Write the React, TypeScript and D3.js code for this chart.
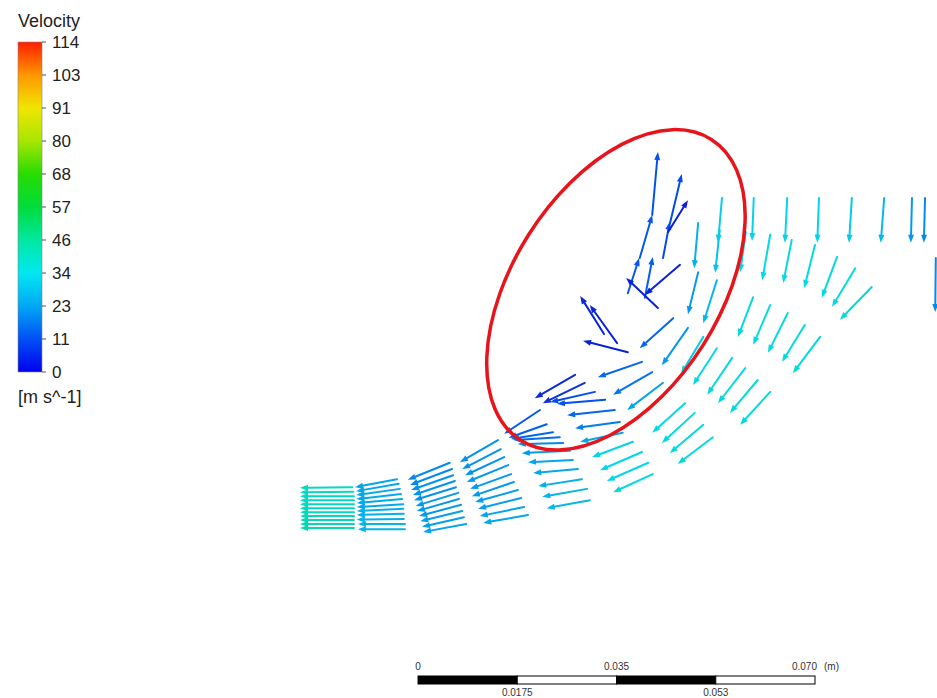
import * as d3 from "d3";
import { useEffect, useRef } from "react";

// colour legend (velocity, m/s)
const legendStops = [0, 11.4, 22.8, 34.2, 45.6, 57, 68.4, 79.8, 91.2, 102.6, 114];
const legendLabels = ["0", "11", "23", "34", "46", "57", "68", "80", "91", "103", "114"];
const legendColours = [
  "#0000f0", "#0050f5", "#00a8f5", "#00e8f0", "#00e8a0", "#00dc3c",
  "#28dc00", "#a8e600", "#f0e600", "#ff9600", "#ff1e00",
];

// length scale bar, mm
const scaleBarSegments = [0, 17.5, 35, 52.5, 70];
const scaleBarTop = [0, 35, 70];
const scaleBarTopLabels = ["0", "0.035", "0.070"];
const scaleBarBottom = [17.5, 52.5];
const scaleBarBottomLabels = ["0.0175", "0.053"];

// vectors: [tailX, tailY, headX, headY, speed]  positions in mm, speed in m/s
const section1 = [
  [-11.6, 34.0, -20.8, 33.9, 40],
  [-11.4, 33.2, -20.8, 33.1, 40],
  [-11.3, 32.4, -20.8, 32.4, 40],
  [-11.3, 31.7, -20.8, 31.7, 40],
  [-11.3, 31.0, -20.8, 31.0, 41],
  [-11.3, 30.3, -20.8, 30.3, 41],
  [-11.3, 29.6, -20.8, 29.6, 41],
  [-11.3, 28.9, -20.8, 28.9, 41],
  [-11.3, 28.2, -20.8, 28.2, 42],
  [-11.3, 27.5, -20.8, 27.5, 42],
  [-11.3, 26.8, -20.8, 26.8, 42],
];

const section2 = [
  [-3.7, 35.4, -11.1, 34.0, 24],
  [-3.4, 34.6, -10.9, 33.3, 24],
  [-3.2, 33.7, -10.9, 32.6, 25],
  [-3.0, 32.8, -10.9, 31.9, 25],
  [-2.8, 31.9, -10.8, 31.2, 25],
  [-2.6, 31.0, -10.8, 30.5, 25],
  [-2.6, 30.2, -10.8, 29.8, 26],
  [-2.5, 29.3, -10.8, 29.1, 26],
  [-2.5, 28.4, -10.8, 28.3, 26],
  [-2.3, 27.5, -10.6, 27.5, 27],
  [-2.3, 26.6, -10.6, 26.6, 27],
];

const section3 = [
  [5.6, 38.3, -1.8, 35.3, 20],
  [6.0, 37.2, -1.4, 34.4, 20],
  [6.2, 36.1, -1.2, 33.5, 21],
  [6.5, 35.1, -0.9, 32.6, 21],
  [6.7, 34.0, -0.7, 31.7, 21],
  [7.1, 33.0, -0.4, 30.7, 22],
  [7.2, 31.9, -0.2, 29.8, 22],
  [7.6, 30.9, 0.2, 28.9, 22],
  [7.8, 29.8, 0.4, 28.0, 23],
  [8.1, 28.7, 0.7, 27.0, 23],
  [8.5, 27.5, 0.9, 26.1, 24],
];

const section4 = [
  [14.1, 42.3, 7.4, 38.4, 21],
  [14.6, 40.7, 7.8, 37.2, 21],
  [15.2, 39.3, 8.3, 36.1, 21],
  [15.9, 37.9, 8.6, 34.9, 22],
  [16.4, 36.3, 9.2, 33.7, 22],
  [16.9, 34.9, 9.5, 32.4, 22],
  [17.6, 33.5, 10.1, 31.4, 23],
  [18.2, 32.1, 10.6, 30.2, 23],
  [18.7, 30.5, 10.9, 28.9, 24],
  [19.4, 29.1, 11.5, 27.7, 24],
];

const section5 = [
  [21.5, 47.6, 15.2, 43.4, 13],
  [22.7, 45.1, 16.0, 42.7, 14],
  [23.8, 43.7, 16.4, 42.5, 15],
  [25.0, 42.8, 16.8, 42.3, 16],
  [25.6, 41.8, 17.6, 41.6, 20],
  [26.8, 40.4, 18.3, 40.0, 22],
  [27.3, 38.8, 19.4, 38.4, 24],
  [28.2, 37.2, 20.3, 36.5, 25],
  [28.9, 35.4, 21.2, 34.2, 26],
  [29.8, 33.7, 21.9, 32.3, 27],
  [30.3, 31.7, 22.7, 30.3, 28],
];

const section6 = [
  [27.7, 53.8, 20.6, 49.7, 6],
  [29.4, 52.4, 22.0, 48.8, 7],
  [31.2, 50.8, 23.3, 49.0, 11],
  [33.0, 49.4, 24.5, 48.7, 12],
  [34.7, 47.6, 26.3, 46.7, 15],
  [35.6, 45.5, 27.7, 44.4, 18],
  [36.1, 43.6, 28.6, 42.0, 24],
  [37.9, 42.0, 30.7, 39.3, 33],
  [39.5, 40.2, 32.1, 37.0, 34],
  [40.6, 38.3, 33.3, 35.1, 35],
  [41.4, 36.3, 34.4, 33.1, 36],
];

const section7 = [
  [39.5, 56.1, 31.7, 53.4, 15],
  [41.3, 54.3, 34.4, 50.3, 17],
  [43.2, 52.4, 36.9, 47.6, 24],
  [47.1, 48.8, 41.3, 43.6, 35],
  [48.8, 47.1, 43.0, 41.8, 35],
  [50.3, 45.0, 44.4, 40.0, 36],
  [52.0, 42.8, 45.8, 38.1, 36],
];

const section8 = [
  [45.0, 63.8, 39.1, 58.5, 15],
  [47.6, 62.1, 43.0, 55.5, 22],
  [50.3, 60.5, 46.4, 54.0, 32],
  [52.7, 58.5, 48.5, 52.0, 34],
  [55.4, 56.8, 51.0, 50.3, 35],
  [57.7, 55.0, 52.9, 48.8, 35],
  [59.9, 52.9, 55.0, 47.1, 36],
  [62.1, 50.8, 56.8, 45.0, 36],
];

const section9 = [
  [49.4, 71.9, 47.6, 64.5, 22],
  [52.7, 70.5, 50.3, 62.9, 28],
  [59.1, 67.5, 56.4, 60.5, 34],
  [62.1, 66.1, 59.1, 59.1, 35],
  [65.2, 64.7, 61.7, 57.7, 35],
  [68.2, 62.6, 64.2, 56.1, 36],
  [70.9, 60.5, 66.1, 54.1, 36],
];

const section10 = [
  [49.4, 80.6, 48.7, 72.6, 26],
  [53.2, 79.3, 52.4, 71.8, 30],
  [57.8, 79.0, 56.8, 71.9, 33],
  [62.1, 78.5, 60.7, 70.5, 34],
  [65.9, 77.6, 64.4, 70.0, 34],
  [70.0, 76.7, 68.1, 69.1, 35],
  [73.9, 74.6, 71.2, 67.4, 35],
  [77.1, 72.6, 73.0, 65.8, 35],
  [80.0, 69.3, 74.4, 63.5, 36],
];

const inletRow = [
  [53.6, 85.0, 52.9, 77.1, 32],
  [59.2, 85.0, 58.9, 77.4, 33],
  [65.1, 85.0, 64.7, 77.1, 33],
  [70.7, 85.0, 70.4, 77.1, 33],
  [76.5, 85.0, 76.0, 77.1, 31],
  [82.2, 85.0, 81.6, 77.1, 28],
  [87.1, 85.0, 86.9, 77.1, 22],
  [89.4, 85.0, 89.2, 77.1, 20],
  [91.3, 74.4, 91.2, 64.9, 20],
];

const recirculation = [
  [37.0, 68.2, 39.0, 74.4, 13],
  [39.1, 74.4, 41.3, 82.0, 13],
  [41.3, 82.0, 42.3, 93.1, 12],
  [43.2, 74.4, 44.4, 80.8, 11],
  [44.4, 80.4, 46.5, 89.2, 11],
  [44.1, 79.0, 47.6, 84.6, 4],
  [40.0, 67.4, 41.4, 74.6, 14],
  [46.2, 73.2, 40.0, 67.9, 4],
  [42.3, 65.6, 36.7, 70.9, 4],
  [32.8, 61.0, 28.6, 67.7, 5],
  [35.1, 59.4, 30.3, 66.1, 5],
  [37.0, 57.8, 29.1, 59.8, 4],
];

// red highlight around the recirculation zone (mm, degrees)
const highlightCentre = [34.9, 68.8];
const highlightRadii = [31.4, 18.2];
const highlightTilt = 57.6;

const font = "'Liberation Sans', Arial, sans-serif";

const App = () => {
  const ref = useRef<SVGSVGElement>(null);

  useEffect(() => {
    const svg = d3.select(ref.current);
    svg.selectAll("*").remove();

    const x = d3.scaleLinear().domain([0, 70]).range([418, 815]);
    const y = d3.scaleLinear().domain([0, 70]).range([680, 283]);
    const colour = d3.scaleLinear<string>().domain(legendStops).range(legendColours).clamp(true);
    // JPEG-ish dimming of the vector colours
    const arrowColour = (v: number) => d3.interpolateRgb(colour(v), "#303080")(v < 10 ? 0.22 : 0.08);

    // vectors
    const field = svg.append("g");
    const drawArrows = (rows: number[][]) => {
      rows.forEach(([x0, y0, x1, y1, v]) => {
        const tx = x(x0), ty = y(y0), hx = x(x1), hy = y(y1);
        const len = Math.hypot(hx - tx, hy - ty);
        const ux = (hx - tx) / len, uy = (hy - ty) / len;
        const hl = 8, hw = 3;
        const bx = hx - ux * hl, by = hy - uy * hl;
        const c = arrowColour(v);
        field.append("line")
          .attr("x1", tx).attr("y1", ty)
          .attr("x2", bx + ux * 2).attr("y2", by + uy * 2)
          .attr("stroke", c).attr("stroke-width", 2)
          .attr("stroke-linecap", "round");
        field.append("path")
          .attr("d", `M${hx},${hy}L${bx - uy * hw},${by + ux * hw}L${bx + uy * hw},${by - ux * hw}Z`)
          .attr("fill", c);
      });
    };
    [section1, section2, section3, section4, section5, section6, section7,
      section8, section9, section10, inletRow, recirculation].forEach(drawArrows);

    // highlight ellipse
    const cx = x(highlightCentre[0]), cy = y(highlightCentre[1]);
    svg.append("ellipse")
      .attr("cx", cx).attr("cy", cy)
      .attr("rx", x(highlightRadii[0]) - x(0))
      .attr("ry", x(highlightRadii[1]) - x(0))
      .attr("transform", `rotate(${-highlightTilt},${cx},${cy})`)
      .attr("fill", "none")
      .attr("stroke", "#e8141c")
      .attr("stroke-width", 3.5);

    // legend
    const lg = d3.scaleLinear().domain([0, 114]).range([372, 42]);
    const grad = svg.append("defs").append("linearGradient")
      .attr("id", "velgrad").attr("x1", 0).attr("y1", 1).attr("x2", 0).attr("y2", 0);
    legendStops.forEach((s, i) => {
      grad.append("stop").attr("offset", s / 114).attr("stop-color", legendColours[i]);
    });
    const legend = svg.append("g").attr("font-family", font).attr("fill", "#222");
    legend.append("text").attr("x", 18).attr("y", 27).attr("font-size", 18).text("Velocity");
    legend.append("rect")
      .attr("x", 18).attr("y", lg(114)).attr("width", 24).attr("height", lg(0) - lg(114))
      .attr("fill", "url(#velgrad)").attr("stroke", "#888").attr("stroke-width", 0.6);
    legendStops.forEach((s, i) => {
      legend.append("line")
        .attr("x1", 42).attr("x2", 46).attr("y1", lg(s)).attr("y2", lg(s))
        .attr("stroke", "#555").attr("stroke-width", 1);
      legend.append("text")
        .attr("x", 52).attr("y", lg(s)).attr("dy", "0.36em")
        .attr("font-size", 17).text(legendLabels[i]);
    });
    legend.append("text").attr("x", 18).attr("y", 403).attr("font-size", 18).text("[m s^-1]");

    // scale bar
    const bar = svg.append("g").attr("font-family", font);
    d3.pairs(scaleBarSegments).forEach(([a, b], i) => {
      bar.append("rect")
        .attr("x", x(a)).attr("y", 676).attr("width", x(b) - x(a)).attr("height", 8)
        .attr("fill", i % 2 === 0 ? "#000" : "#fff").attr("stroke", "#000").attr("stroke-width", 1);
    });
    scaleBarTop.forEach((v, i) => {
      bar.append("text")
        .attr("x", i === scaleBarTop.length - 1 ? x(v) + 2 : x(v)).attr("y", 670)
        .attr("text-anchor", i === scaleBarTop.length - 1 ? "end" : "middle")
        .attr("font-size", 10).attr("fill", "#333").text(scaleBarTopLabels[i]);
    });
    bar.append("text").attr("x", x(70) + 9).attr("y", 670)
      .attr("font-size", 10).attr("fill", "#333").text("(m)");
    scaleBarBottom.forEach((v, i) => {
      bar.append("text")
        .attr("x", x(v)).attr("y", 696).attr("text-anchor", "middle")
        .attr("font-size", 10).attr("fill", "#333").text(scaleBarBottomLabels[i]);
    });
  }, []);

  return (
    <svg
      ref={ref}
      width={937}
      height={698}
      style={{ position: "absolute", left: 0, top: 0, background: "#fff" }}
    />
  );
};

export default App;
